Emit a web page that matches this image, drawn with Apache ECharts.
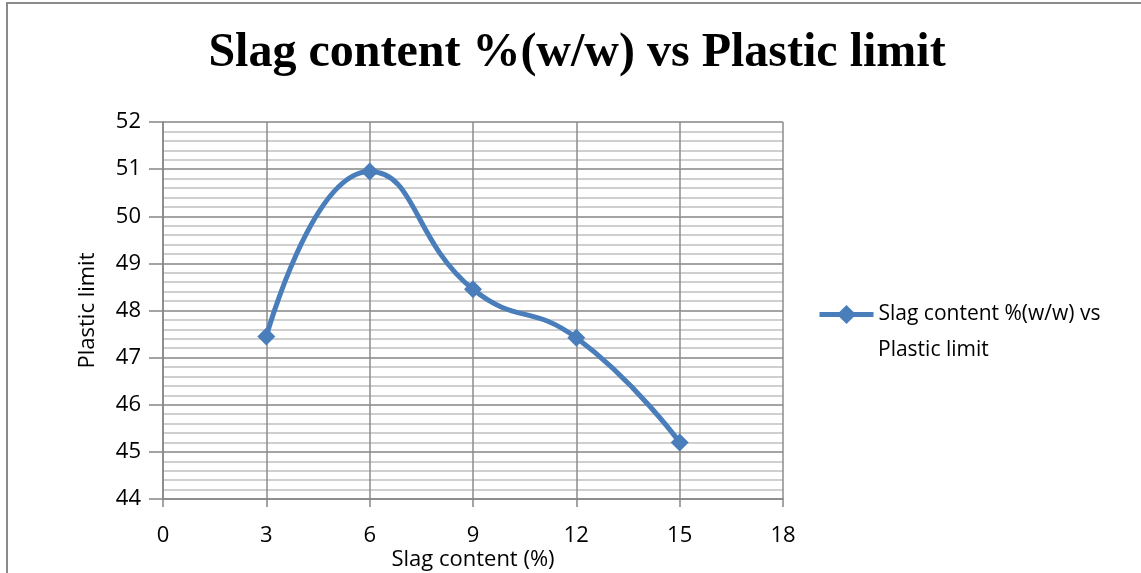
<!DOCTYPE html>
<html>
<head>
<meta charset="utf-8">
<style>
  html, body { margin: 0; padding: 0; background: #fff; }
  #chart { width: 1141px; height: 573px; }
</style>
<script src="https://cdn.jsdelivr.net/npm/echarts@6/dist/echarts.min.js"></script>
</head>
<body>
<div id="chart"></div>
<script>
// Slag content (% w/w) and the measured plastic limit
const slagContent = [3, 6, 9, 12, 15];
const plasticLimit = [47.45, 50.95, 48.45, 47.42, 45.2];
const seriesName = 'Slag content %(w/w) vs Plastic limit';
const titleText = 'Slag content %(w/w) vs Plastic limit';
const xAxisTitle = 'Slag content (%)';
const yAxisTitle = 'Plastic limit';
const legendLines = ['Slag content %(w/w) vs', 'Plastic limit'];

const points = slagContent.map((x, i) => [x, plasticLimit[i]]);
const sans = 'Open Sans, Liberation Sans, sans-serif';
const blue = '#4a7ebb';
const labelSize = 22;

const chart = echarts.init(document.getElementById('chart'), null, { renderer: 'canvas' });
chart.setOption({
  backgroundColor: '#ffffff',
  animation: false,
  title: {
    text: titleText,
    left: 572,
    textAlign: 'center',
    top: 25,
    textStyle: {
      fontFamily: 'Liberation Serif, Times New Roman, serif',
      fontWeight: 'bold',
      fontSize: 48,
      color: '#000'
    }
  },
  graphic: [{
    type: 'rect',
    shape: { x: 7, y: 3, width: 1300, height: 700 },
    style: { fill: 'none', stroke: '#8a8a8a', lineWidth: 2 },
    silent: true,
    z: -1
  }, {
    // second line of the legend entry
    type: 'text',
    left: 878,
    top: 340,
    style: { text: legendLines[1], font: (labelSize - 1) + 'px ' + sans, fill: '#000' },
    silent: true
  }],
  legend: {
    left: 812,
    top: 299,
    itemWidth: 54,
    itemHeight: 24,
    itemGap: 0,
    data: [seriesName],
    formatter: () => legendLines[0],
    lineStyle: { width: 5, color: blue },
    itemStyle: { color: blue },
    textStyle: { fontFamily: sans, fontSize: labelSize - 1, color: '#000' }
  },
  grid: { left: 163, right: 358, top: 122, bottom: 74, outerBoundsMode: 'none', containLabel: false },
  xAxis: {
    type: 'value',
    min: 0,
    max: 18,
    interval: 3,
    name: xAxisTitle,
    nameLocation: 'middle',
    nameGap: 50,
    nameMoveOverlap: false,
    nameTextStyle: { fontFamily: sans, fontSize: labelSize, color: '#000' },
    axisLine: { lineStyle: { color: '#868686', width: 1.5 } },
    axisTick: { show: true, length: 8, lineStyle: { color: '#868686', width: 1.5 } },
    axisLabel: { fontFamily: sans, fontSize: labelSize, color: '#000', margin: 26 },
    splitLine: { show: true, lineStyle: { color: '#8c8c8c', width: 1.5 } }
  },
  yAxis: {
    type: 'value',
    min: 44,
    max: 52,
    interval: 1,
    name: yAxisTitle,
    nameLocation: 'middle',
    nameGap: 64,
    nameMoveOverlap: false,
    nameTextStyle: { fontFamily: sans, fontSize: labelSize, color: '#000' },
    axisLine: { show: true, lineStyle: { color: '#868686', width: 1.5 } },
    axisTick: { show: true, length: 14, lineStyle: { color: '#868686', width: 1.5 } },
    axisLabel: { fontFamily: sans, fontSize: labelSize, color: '#000', margin: 22 },
    splitLine: { show: true, lineStyle: { color: '#868686', width: 1.5 } },
    minorTick: { show: false, splitNumber: 5 },
    minorSplitLine: { show: true, lineStyle: { color: '#c0c0c0', width: 1.5 } }
  },
  series: [{
    name: seriesName,
    type: 'line',
    data: points,
    smooth: 0.5,
    symbol: 'diamond',
    symbolSize: 18,
    lineStyle: { color: blue, width: 5 },
    itemStyle: { color: blue },
    z: 5
  }]
});
</script>
</body>
</html>
